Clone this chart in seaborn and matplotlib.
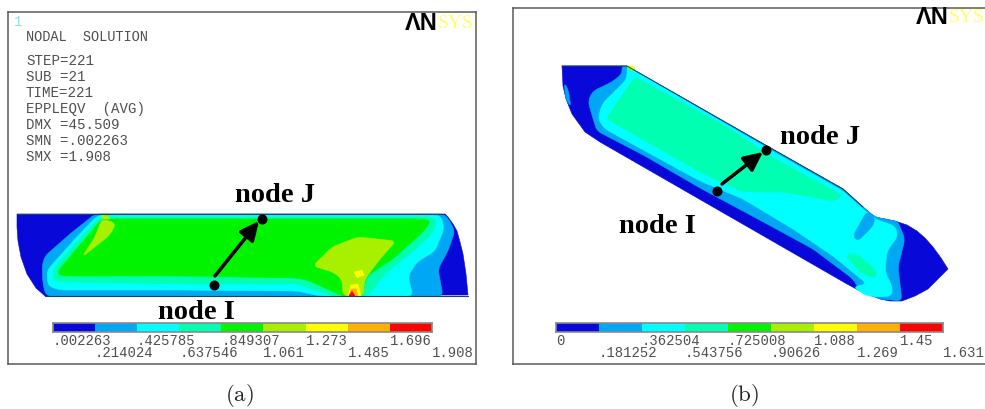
import numpy as np
import matplotlib
matplotlib.use("Agg")
import matplotlib.pyplot as plt
from matplotlib.colors import ListedColormap
import pandas as pd
import seaborn as sns

# contour band colours, low to high
band_colors = ["#0808d8", "#00a8f4", "#00ffff", "#00ffb0", "#00f400",
               "#a8f000", "#ffff00", "#ffb000", "#ff0000"]
levels = [0, 1, 2, 3, 4, 5, 6, 7, 8]
labels_a = [".002263", ".214024", ".425785", ".637546", ".849307",
            "1.061", "1.273", "1.485", "1.696", "1.908"]
labels_b = ["0", ".181252", ".362504", ".543756", ".725008",
            ".90626", "1.088", "1.269", "1.45", "1.631"]
info_lines = ["STEP=221", "SUB =21", "TIME=221", "EPPLEQV  (AVG)",
              "DMX =45.509", "SMN =.002263", "SMX =1.908"]

# panel (a) regions in image pixels
a_blue = [(17, 215), (445, 215), (448, 218), (453, 225), (457, 232), (460, 243), (463, 255),
          (466, 275), (468, 296), (45, 297), (36, 289), (27, 275), (21, 258), (18, 242), (17, 228)]
a_light = [(95, 215), (70, 235), (45, 257), (42, 267), (43, 285), (46, 297),
           (443, 297), (438, 270), (448, 252), (455, 232), (448, 219), (443, 215)]
a_cyan = [(98, 216), (75, 240), (50, 268), (47, 273), (48, 287), (60, 291), (180, 291), (297, 292),
          (320, 297), (413, 297), (408, 277), (417, 263), (435, 252), (444, 230),
          (442, 220), (438, 216)]
a_aqua = [(100, 218), (76, 244), (53, 270), (53, 282), (68, 283), (180, 285), (297, 285),
          (333, 297), (368, 297), (383, 277), (410, 255), (432, 235), (437, 222), (430, 218)]
a_spring = [(101, 219), (77, 245), (55, 270), (58, 279), (180, 281), (297, 282), (320, 288),
            (338, 297), (365, 297), (374, 280), (400, 262), (428, 236), (435, 221), (428, 219)]
a_green = [(102, 220), (58, 272), (60, 277), (180, 277), (297, 279), (310, 282), (342, 297),
           (362, 297), (367, 277), (393, 260), (423, 233), (431, 222), (424, 220)]
a_lime_1 = [(105, 221), (116, 224), (110, 236), (82, 258), (95, 238), (101, 222)]
a_lime_2 = [(313, 267), (332, 248), (358, 238), (396, 242), (380, 260), (365, 280), (363, 297),
            (343, 297), (342, 280), (333, 273)]
a_yellow_1 = [(354, 273), (362, 271), (364, 276), (357, 279)]
a_yellow_2 = [(348, 297), (351, 286), (358, 285), (361, 297)]
a_orange = [(349, 297), (351, 290), (356, 290), (358, 297)]
a_red = [(349, 297), (352, 292), (355, 297)]
a_tip = [(101, 216), (107, 215), (110, 220), (103, 220)]

# panel (b) regions
b_blue = [(562, 67), (627, 67), (767, 147), (843, 190), (853, 199), (863, 208), (875, 218), (895, 222),
          (907, 226), (917, 232), (925, 239), (933, 248), (941, 259), (948, 270), (928, 290), (915, 297),
          (902, 302), (890, 302), (880, 300), (860, 292), (847, 285), (600, 143), (585, 133),
          (572, 115), (566, 100), (563, 87)]
b_light_1 = [(622, 67), (627, 67), (767, 147), (843, 190), (853, 199), (863, 208), (875, 218), (895, 222),
             (898, 223), (905, 240), (898, 268), (902, 302), (880, 300), (860, 292), (853, 280),
             (813, 250), (767, 225), (700, 189), (645, 157), (597, 132), (594, 123), (588, 102),
             (593, 92), (612, 83), (622, 75)]
b_light_2 = [(564, 84), (568, 90), (571, 108), (566, 100)]
b_cyan = [(627, 68), (627, 80), (602, 105), (598, 120), (605, 130), (700, 182), (743, 200), (793, 230),
          (833, 257), (867, 285), (853, 288), (867, 297), (880, 298), (892, 297), (892, 287), (885, 273),
          (887, 252), (898, 237), (895, 227), (875, 220), (863, 210), (843, 192), (767, 149), (630, 69)]
b_light_3 = [(867, 212), (853, 237), (858, 242), (873, 227), (875, 219)]
b_aqua_1 = [(635, 78), (725, 127), (770, 157), (843, 197), (833, 202), (783, 193), (743, 193),
            (700, 173), (607, 120), (608, 117)]
b_aqua_2 = [(845, 255), (857, 255), (877, 272), (875, 280), (860, 273)]
b_tip_1 = [(626, 67), (633, 67), (636, 72), (630, 71)]
b_tip_2 = [(628, 67), (632, 67), (635, 71)]

# the two nodes of each panel and the tail of the arrow
a_nodes_x = [214, 262]
a_nodes_y = [286, 220]
a_arrow_tail = (215, 277)
b_nodes_x = [717, 766]
b_nodes_y = [192, 151]
b_arrow_tail = (722, 185)

sns.set_theme(style="white")
plt.rcParams["mathtext.fontset"] = "cm"
plt.rcParams["font.family"] = ["Liberation Mono", "DejaVu Sans Mono"]

W, H = 985, 410
GRAY = "#5a5a5a"
TXT = "#505050"
EDGE = "#15406a"


def px_axes(fig, x0, y0, x1, y1):
    return fig.add_axes([x0 / W, 1 - y1 / H, (x1 - x0) / W, (y1 - y0) / H])


def rounded(pts, r=3.0, iters=2):
    # cut the corners a little so the bands do not look faceted
    p = np.array(pts, dtype=float)
    for _ in range(iters):
        out = []
        n = len(p)
        for i in range(n):
            a, b = p[i], p[(i + 1) % n]
            d = np.hypot(*(b - a))
            t = min(r / d, 0.25) if d > 0 else 0.25
            out.append(a + (b - a) * t)
            out.append(b - (b - a) * t)
        p = np.array(out)
        r = r / 2
    return p


def region(ax, pts, color, smooth=True):
    p = rounded(pts) if smooth else np.array(pts, dtype=float)
    ax.fill(p[:, 0], p[:, 1], color=color, lw=0.4, ec=color)


def node_label(ax, x, y, s):
    ax.text(x, y, s, family="Liberation Serif", weight="bold", fontsize=20.5,
            color="black", ha="center", va="center", zorder=6)


def nodes(ax, xs, ys, tail):
    df = pd.DataFrame({"x": xs, "y": ys})
    sns.scatterplot(data=df, x="x", y="y", ax=ax, color="black", s=52,
                    linewidth=0, zorder=5, legend=False)
    ax.annotate("", xy=(xs[1] - 3, ys[1] + 2), xytext=tail,
                arrowprops=dict(arrowstyle="-|>,head_length=0.95,head_width=0.45",
                                color="black", lw=2.5, shrinkA=0, shrinkB=0), zorder=5)
    ax.set_xlabel("")
    ax.set_ylabel("")


def logo(ax, x0, y):
    ax.text(x0, y, "\u039bN", family="Liberation Sans", weight="bold", fontsize=17,
            color="black", ha="left", va="center")
    ax.text(x0 + 33, y, "SYS", family="Liberation Serif", fontsize=14,
            color="#ffff66", ha="left", va="center")


def color_key(fig, x0, x1, labels):
    ax = px_axes(fig, x0, 323.5, x1, 332.5)
    sns.heatmap(np.array([levels]), cmap=ListedColormap(band_colors), cbar=False,
                ax=ax, xticklabels=False, yticklabels=False)
    ax.set_xticks(np.arange(10))
    ax.set_xticklabels(labels, ha="left", fontsize=10, color=TXT)
    ax.tick_params(axis="x", length=0, bottom=True)
    for i, tick in enumerate(ax.xaxis.get_major_ticks()):
        tick.set_pad(0.8 if i % 2 == 0 else 9.5)
    for s in ax.spines.values():
        s.set_visible(True)
        s.set_color("#8a8a8a")
        s.set_linewidth(1.2)


fig = plt.figure(figsize=(W / 100, H / 100), dpi=100)
fig.patch.set_facecolor("white")

# panel (a)
ax_a = px_axes(fig, 8, 13, 476, 365)
region(ax_a, a_blue, band_colors[0], smooth=False)
for pts, k in [(a_light, 1), (a_cyan, 2), (a_aqua, 3), (a_spring, 3), (a_green, 4),
               (a_lime_1, 5), (a_lime_2, 5)]:
    region(ax_a, pts, band_colors[k])
for pts, k in [(a_yellow_1, 6), (a_yellow_2, 6), (a_orange, 7), (a_red, 8), (a_tip, 5)]:
    region(ax_a, pts, band_colors[k], smooth=False)
ax_a.plot([17, 445], [215, 215], color=EDGE, lw=0.8)
ax_a.plot([45, 468], [297, 297], color=EDGE, lw=0.8)
nodes(ax_a, a_nodes_x, a_nodes_y, a_arrow_tail)
ax_a.set_xlim(8, 476)
ax_a.set_ylim(365, 13)
node_label(ax_a, 275, 196, "node J")
node_label(ax_a, 196, 313, "node I")
logo(ax_a, 405, 23)
ax_a.text(14, 22, "1", color="#80e8e8", fontsize=10, va="center")
ax_a.text(26, 37, "NODAL  SOLUTION", color=TXT, fontsize=9.8, va="center")
for i, line in enumerate(info_lines):
    ax_a.text(26, 61 + i * 16, line, color=TXT, fontsize=10.2, va="center")

# panel (b)
ax_b = px_axes(fig, 513, 8.5, 985, 365)
region(ax_b, b_blue, band_colors[0], smooth=False)
for pts, k in [(b_light_1, 1), (b_light_2, 1), (b_cyan, 2), (b_light_3, 1),
               (b_aqua_1, 3), (b_aqua_2, 3), (b_tip_1, 5), (b_tip_2, 6)]:
    region(ax_b, pts, band_colors[k])
ax_b.plot([562, 627, 767, 843, 863], [67, 67, 147, 190, 208], color=EDGE, lw=0.7)
nodes(ax_b, b_nodes_x, b_nodes_y, b_arrow_tail)
ax_b.set_xlim(513, 985)
ax_b.set_ylim(365, 8.5)
node_label(ax_b, 820, 138, "node J")
node_label(ax_b, 657, 227, "node I")
logo(ax_b, 916, 18)

for ax in (ax_a, ax_b):
    ax.set_xticks([])
    ax.set_yticks([])
    for s in ax.spines.values():
        s.set_color(GRAY)
        s.set_linewidth(1.1)
ax_b.spines["right"].set_visible(False)

color_key(fig, 52.7, 432, labels_a)
color_key(fig, 555.7, 942.7, labels_b)

# captions
fig.text(239 / W, 1 - 396 / H, r"$\mathrm{(a)}$", fontsize=16.5, ha="center", va="center", color="#222222")
fig.text(744 / W, 1 - 396 / H, r"$\mathrm{(b)}$", fontsize=16.5, ha="center", va="center", color="#222222")

fig.savefig("out.png", dpi=100)
